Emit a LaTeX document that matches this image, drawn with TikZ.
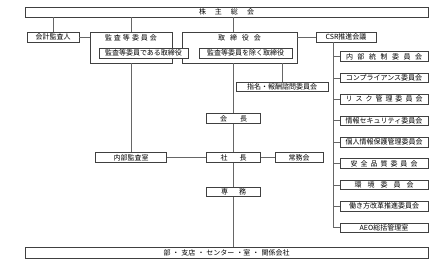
\documentclass[tikz,border=0pt]{standalone}
\usepackage{fontspec}
\setmainfont{Noto Sans CJK JP}
\usetikzlibrary{calc,positioning}

\newcommand{\jgap}[1]{\hspace{#1pt}}

\begin{document}
\begin{tikzpicture}[x=1pt, y=-1pt, font=\fontsize{7}{8}\selectfont]
\tikzstyle{box}=[draw=black!75, fill=white, inner sep=0pt, minimum height=9.5pt, line width=0.7pt]
\tikzstyle{frame}=[draw=black!75, fill=white, inner sep=0pt, line width=0.7pt]
\tikzstyle{link}=[draw=black!60, line width=0.6pt]

\useasboundingbox (0,0) rectangle (436,269);

% top and bottom bars
\node[box, minimum width=403pt, minimum height=10pt] (agm) at (226.5,12) {株\jgap{9}主\jgap{9}総\jgap{9}会};
\node[box, minimum width=403pt, minimum height=11pt] (units) at (226.5,252.5) {部\jgap{2}・\jgap{2}支店\jgap{2}・\jgap{2}センター\jgap{2}・室\jgap{2}・\jgap{2}関係会社};

% board and audit committee
\node[box, minimum width=52pt, minimum height=10pt] (auditor) at (53,37) {会計監査人};
\node[frame, minimum width=82pt, minimum height=31pt] (acomm) at (131,47.5) {};
\node[frame, minimum width=115pt, minimum height=31pt] (board) at (239.5,47.5) {};
\node (acommT) at (131,38) {監\jgap{2}査\jgap{2}等\jgap{2}委\jgap{2}員\jgap{2}会};
\node (boardT) at (239.5,38) {取\jgap{5}締\jgap{5}役\jgap{5}会};
\node[box, minimum width=89pt, minimum height=10pt] (adir) at (143.5,53) {監査等委員である取締役};
\node[box, minimum width=93pt, minimum height=10pt] (bdir) at (245.5,53) {監査等委員を除く取締役};
\node[box, minimum width=92pt, minimum height=9pt] (nomin) at (282,86.5) {指名・報酬諮問委員会};

% executive line
\node[box, minimum width=54pt] (chair) at (233.5,118.5) {会\jgap{13}長};
\node[box, minimum width=54pt] (pres) at (233.5,157.5) {社\jgap{12}長};
\node[box, minimum width=54pt] (senior) at (233.5,192) {専\jgap{11}務};
\node[box, minimum width=48pt] (mgmt) at (299,157.5) {常務会};
\node[box, minimum width=71pt, minimum height=10pt] (iaudit) at (131,157.5) {内部監査室};

% CSR committees
\node[box, minimum width=60pt, minimum height=10pt] (csr) at (346,37) {CSR推進会議};
\coordinate (spine) at (333,42);
\foreach \name/\txt [count=\i] in {
    cic/内\jgap{4.5}部\jgap{4.5}統\jgap{4.5}制\jgap{4.5}委\jgap{4.5}員\jgap{4.5}会,
    ccomp/コンプライアンス委員会,
    crisk/リ\jgap{3}ス\jgap{3}ク\jgap{3}管\jgap{3}理\jgap{3}委\jgap{3}員\jgap{3}会,
    csec/情報セキュリティ委員会,
    cpriv/個人情報保護管理委員会,
    csafe/安\jgap{3}全\jgap{3}品\jgap{3}質\jgap{3}委\jgap{3}員\jgap{3}会,
    cenv/環\jgap{6}境\jgap{6}委\jgap{6}員\jgap{6}会,
    cwork/働き方改革推進委員会,
    caeo/AEO総括管理室} {
  \node[box, minimum width=88pt] (\name) at (384,{56.5+21.4*(\i-1)}) {\txt};
  \draw[link] (spine |- \name.west) -- (\name.west);
}

% connectors
\draw[link] (auditor.north |- agm.south) -- (auditor.north);
\draw[link] (acomm.north |- agm.south) -- (acomm.north);
\draw[link] (chair.north |- agm.south) -- (chair.north |- board.north);
\draw[link] (auditor.east) -- (auditor.east -| acomm.west);
\draw[link] (csr.west -| board.east) -- (csr.west);
\draw[link] (spine) -- (spine |- caeo.west);
\draw[link] (nomin.north |- board.south) -- (nomin.north);
\draw[link] (chair.north |- board.south) -- (chair.north);
\draw[link] (chair) -- (pres);
\draw[link] (pres) -- (senior);
\draw[link] (senior) -- (senior.south |- units.north);
\draw[link] (iaudit.north |- acomm.south) -- (iaudit.north);
\draw[link] (iaudit.east) -- (pres.west);
\draw[link] (pres.east) -- (mgmt.west);
\end{tikzpicture}
\end{document}
